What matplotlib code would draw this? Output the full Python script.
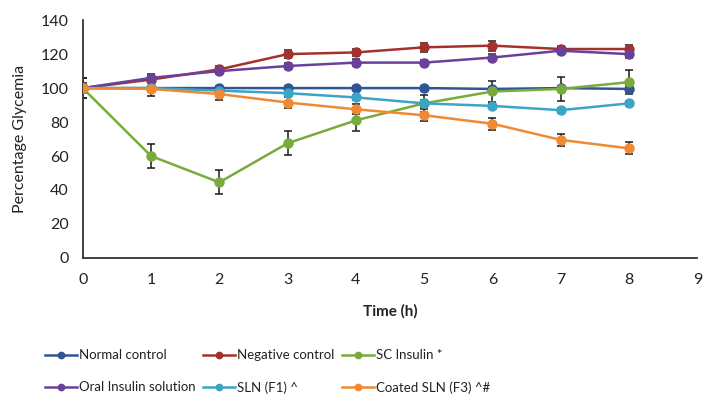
import matplotlib
matplotlib.use("Agg")
from matplotlib import pyplot as plt

plt.rcParams['font.family'] = ['Lato', 'DejaVu Sans']

# time points (h)
hours = [0, 1, 2, 3, 4, 5, 6, 7, 8]

# percentage glycemia per group
normal_control = [100, 100, 100, 100, 100, 100, 99.5, 100, 99.5]
negative_control = [100, 105, 111, 120, 121, 124, 125, 123, 123]
sc_insulin = [100, 60, 44.5, 67.5, 81, 91, 98, 99.5, 103.5]
oral_insulin = [100, 106, 110, 113, 115, 115, 118, 122, 120]
sln_f1 = [100, 100, 98.5, 97, 94.5, 91, 89.5, 87, 91]
coated_sln_f3 = [100, 99.5, 96.5, 91.5, 87.5, 84, 79, 69.5, 64.5]

# error bar half-widths
normal_err = [6, 1, 1, 1, 1, 1, 1, 1, 1.5]
negative_err = [3, 2, 2, 2.5, 2, 2.5, 3, 2, 2.5]
sc_err = [2, 7, 7, 7, 6.5, 5, 6, 7, 7]
oral_err = [2, 2, 2, 2, 2, 1.5, 2, 2, 2.5]
sln_err = [2, 1.5, 1.5, 1.5, 1.5, 2, 1.5, 1.5, 1.5]
coated_err = [6, 4, 3.5, 3.5, 3, 3.5, 3.5, 3.5, 3.5]

labels = ["Normal control", "Negative control", "SC Insulin *",
          "Oral Insulin solution", "SLN (F1) ^", "Coated SLN (F3) ^#"]
series = [normal_control, negative_control, sc_insulin,
          oral_insulin, sln_f1, coated_sln_f3]
errors = [normal_err, negative_err, sc_err, oral_err, sln_err, coated_err]
colors = ["#2f5597", "#a5312d", "#78ab3c", "#6a419a", "#3ca5c6", "#f08a32"]

fig = plt.figure(figsize=(7.13, 4.03), dpi=100)
ax = fig.add_axes([0.116, 0.36, 0.862, 0.59])

handles = []
for vals, err, col, lab in zip(series, errors, colors, labels):
    ax.errorbar(hours, vals, yerr=err, fmt="none", ecolor="#1a1a1a",
                elinewidth=1.1, capsize=3, capthick=1.1, zorder=2)
    h, = ax.plot(hours, vals, color=col, lw=1.8, marker="o", ms=6.5,
                 markeredgecolor=col, label=lab, zorder=3)
    handles.append(h)

ax.set_xlim(0, 9)
ax.set_ylim(0, 140)
ax.set_xticks(range(0, 10))
ax.set_yticks(range(0, 141, 20))
ax.tick_params(length=0, labelsize=11.5, colors="#222222")
ax.tick_params(axis="x", pad=11)
ax.tick_params(axis="y", pad=10)
for s in ["top", "right"]:
    ax.spines[s].set_visible(False)
for s in ["left", "bottom"]:
    ax.spines[s].set_color("#333333")
    ax.spines[s].set_linewidth(1.3)

ax.set_ylabel("Percentage Glycemia", fontsize=11.5, color="#222222", labelpad=10)
ax.set_xlabel("Time (h)", fontsize=11, fontweight="bold", color="#222222", labelpad=12)

# matplotlib fills legend columns first, so reorder for row-wise layout
order = [0, 3, 1, 4, 2, 5]
fig.legend([handles[i] for i in order], [labels[i] for i in order],
           ncol=3, loc="lower left", bbox_to_anchor=(0.05, 0.0),
           borderaxespad=0.3, frameon=False, fontsize=9.5, handlelength=2.4,
           handletextpad=0.15, columnspacing=0.6, labelspacing=1.5,
           markerscale=0.7, labelcolor="#222222")

fig.savefig("out.png", dpi=100)
